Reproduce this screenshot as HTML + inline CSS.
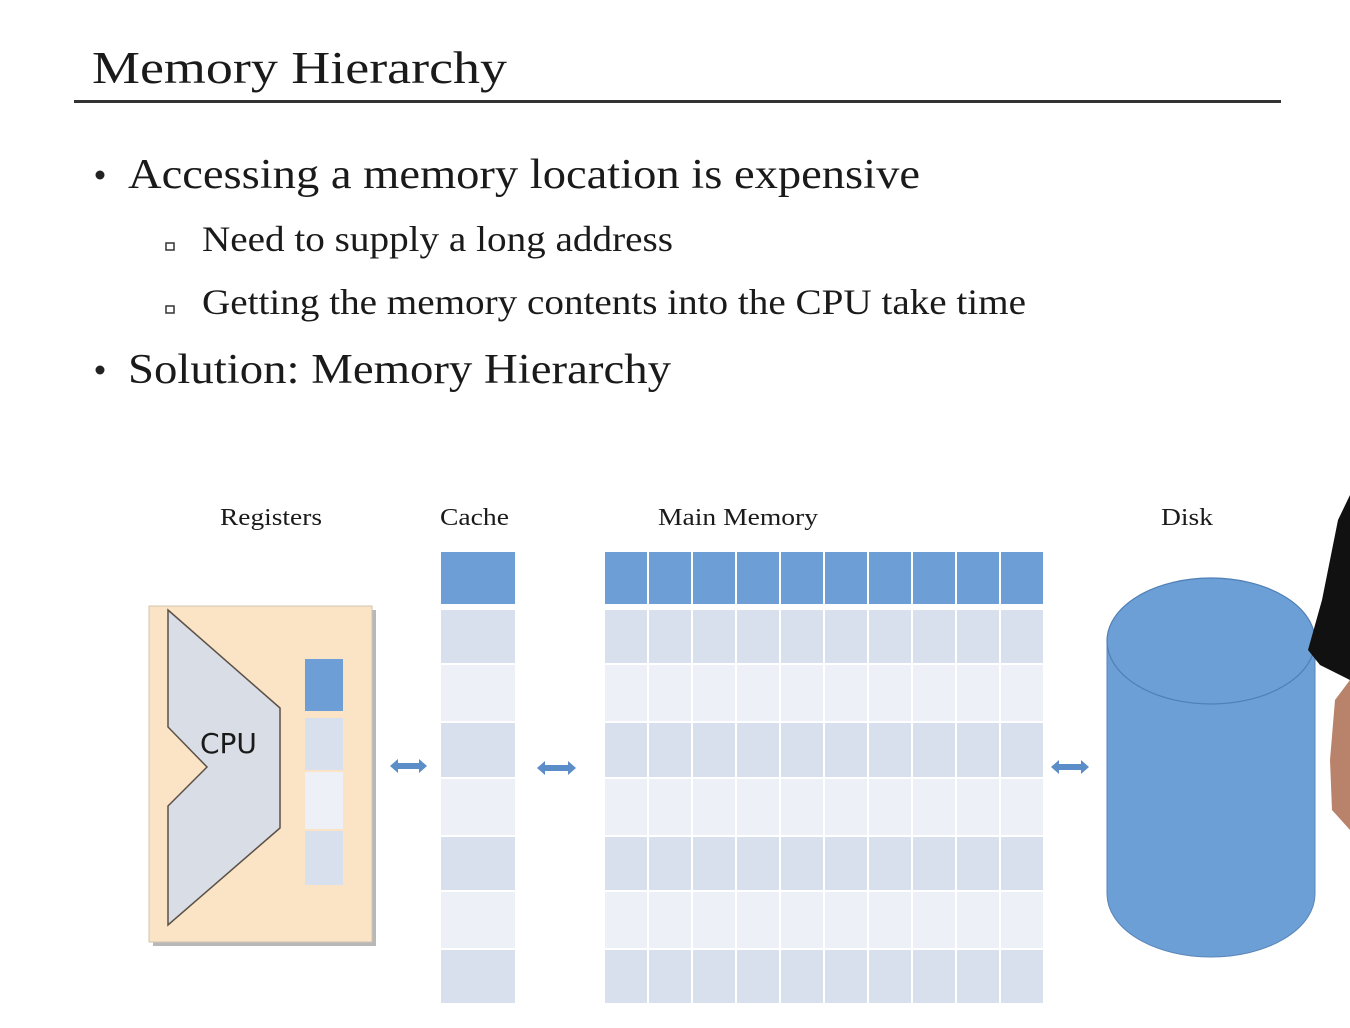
<!DOCTYPE html>
<html><head><meta charset="utf-8"><style>
html,body{margin:0;padding:0;background:#fff;}
svg{display:block;}
text{font-family:"Liberation Serif",serif;fill:#1a1a1a;}
</style></head><body>
<svg width="1350" height="1028" viewBox="0 0 1350 1028" xmlns="http://www.w3.org/2000/svg">
<rect width="1350" height="1028" fill="#ffffff"/>
<text x="92" y="83" font-size="46" textLength="415" lengthAdjust="spacingAndGlyphs">Memory Hierarchy</text>
<rect x="74" y="100" width="1207" height="3" fill="#333"/>
<circle cx="100" cy="175" r="4.5" fill="#222"/>
<text x="128" y="188" font-size="42" textLength="792" lengthAdjust="spacingAndGlyphs">Accessing a memory location is expensive</text>
<rect x="166" y="243" width="8" height="7" fill="none" stroke="#333" stroke-width="1.5"/>
<text x="202" y="251" font-size="36" textLength="471" lengthAdjust="spacingAndGlyphs">Need to supply a long address</text>
<rect x="166" y="306" width="8" height="7" fill="none" stroke="#333" stroke-width="1.5"/>
<text x="202" y="314" font-size="36" textLength="824" lengthAdjust="spacingAndGlyphs">Getting the memory contents into the CPU take time</text>
<circle cx="100" cy="370" r="4.5" fill="#222"/>
<text x="128" y="383" font-size="42" textLength="543" lengthAdjust="spacingAndGlyphs">Solution: Memory Hierarchy</text>

<text x="220" y="525" font-size="24" textLength="102" lengthAdjust="spacingAndGlyphs" fill="#333">Registers</text>
<text x="440" y="525" font-size="24" textLength="69" lengthAdjust="spacingAndGlyphs" fill="#333">Cache</text>
<text x="658" y="525" font-size="24" textLength="160" lengthAdjust="spacingAndGlyphs" fill="#333">Main Memory</text>
<text x="1161" y="525" font-size="24" textLength="52" lengthAdjust="spacingAndGlyphs" fill="#333">Disk</text>

<!-- CPU box -->
<rect x="153" y="610" width="223" height="336" fill="#888" opacity="0.6"/>
<rect x="149" y="606" width="223" height="336" fill="#fbe3c5" stroke="#d0c4b0" stroke-width="1"/>
<polygon points="168,610 280,708 280,828 168,925 168,806 207,767 168,727" fill="#d9dde6" stroke="#5a5046" stroke-width="1.5"/>
<text x="200" y="753" font-size="28" font-family="'DejaVu Sans',sans-serif" style="font-family:'DejaVu Sans',sans-serif" fill="#222">CPU</text>
<rect x="305" y="659" width="38" height="52" fill="#6d9fd6"/>
<rect x="305" y="718" width="38" height="52" fill="#d8e0ee"/>
<rect x="305" y="772" width="38" height="57" fill="#edf0f7"/>
<rect x="305" y="831" width="38" height="54" fill="#d8e0ee"/>

<!-- cache -->
<g>
<rect x="441" y="552" width="74" height="52" fill="#6d9fd6"/>
<rect x="441" y="610" width="74" height="53" fill="#d8e0ee"/>
<rect x="441" y="665" width="74" height="56" fill="#edf0f7"/>
<rect x="441" y="723" width="74" height="54" fill="#d8e0ee"/>
<rect x="441" y="779" width="74" height="56" fill="#edf0f7"/>
<rect x="441" y="837" width="74" height="53" fill="#d8e0ee"/>
<rect x="441" y="892" width="74" height="56" fill="#edf0f7"/>
<rect x="441" y="950" width="74" height="53" fill="#d8e0ee"/>
</g>

<!-- main memory -->
<g id="mm">
<rect x="605" y="552" width="438" height="52" fill="#6d9fd6"/>
<rect x="605" y="610" width="438" height="53" fill="#d8e0ee"/>
<rect x="605" y="665" width="438" height="56" fill="#edf0f7"/>
<rect x="605" y="723" width="438" height="54" fill="#d8e0ee"/>
<rect x="605" y="779" width="438" height="56" fill="#edf0f7"/>
<rect x="605" y="837" width="438" height="53" fill="#d8e0ee"/>
<rect x="605" y="892" width="438" height="56" fill="#edf0f7"/>
<rect x="605" y="950" width="438" height="53" fill="#d8e0ee"/>
<g fill="#fff">
<rect x="647" y="552" width="2" height="451"/>
<rect x="691" y="552" width="2" height="451"/>
<rect x="735" y="552" width="2" height="451"/>
<rect x="779" y="552" width="2" height="451"/>
<rect x="823" y="552" width="2" height="451"/>
<rect x="867" y="552" width="2" height="451"/>
<rect x="911" y="552" width="2" height="451"/>
<rect x="955" y="552" width="2" height="451"/>
<rect x="999" y="552" width="2" height="451"/>
</g>
</g>

<!-- arrows -->
<g fill="#5b8ec8">
<polygon points="390,766 398,759 398,763 419,763 419,759 427,766 419,773 419,769 398,769 398,773"/>
<polygon points="537,768 545,761 545,765 568,765 568,761 576,768 568,775 568,771 545,771 545,775"/>
<polygon points="1051,767 1059,760 1059,764 1081,764 1081,760 1089,767 1081,774 1081,770 1059,770 1059,774"/>
</g>

<!-- disk -->
<path d="M1107,641 L1107,894 A104,63 0 0 0 1315,894 L1315,641 Z" fill="#6b9fd6" stroke="#5a86b8" stroke-width="1"/>
<ellipse cx="1211" cy="641" rx="104" ry="63" fill="#6b9fd6" stroke="#4f7fb5" stroke-width="1.2"/>

<!-- person at right edge -->
<polygon points="1350,495 1338,520 1322,600 1308,650 1320,665 1350,680" fill="#111"/>
<path d="M1350,680 L1335,700 L1330,760 L1332,810 L1350,830 Z" fill="#b8836a"/>
</svg>
</body></html>
